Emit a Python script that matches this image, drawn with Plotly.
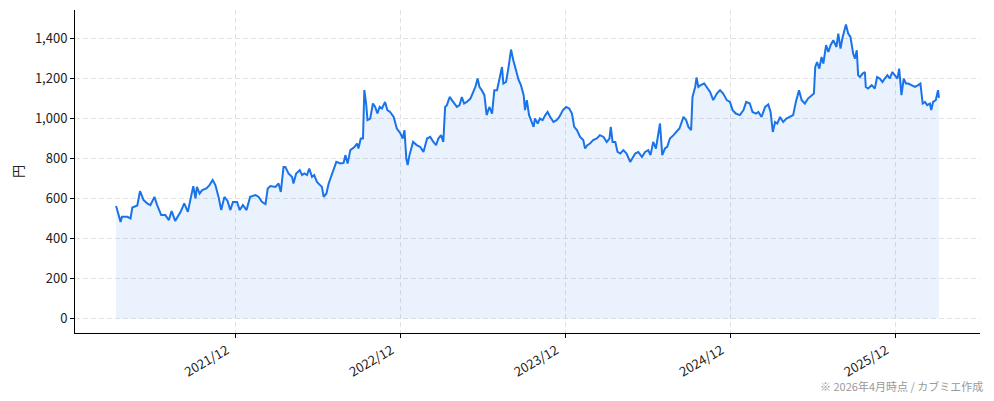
import plotly.graph_objects as go

# daily close (approx.)
dates = [
    "2021-03-11", "2021-03-21", "2021-03-24", "2021-04-05", "2021-04-12", "2021-04-16", "2021-04-27",
    "2021-05-03", "2021-05-11", "2021-05-19", "2021-05-26", "2021-06-04", "2021-06-10", "2021-06-19",
    "2021-06-28", "2021-07-06", "2021-07-12", "2021-07-20", "2021-08-01", "2021-08-09", "2021-08-17",
    "2021-08-21", "2021-08-29", "2021-09-03", "2021-09-06", "2021-09-12", "2021-09-18", "2021-09-27",
    "2021-10-04", "2021-10-11", "2021-10-17", "2021-10-24", "2021-10-30", "2021-11-06", "2021-11-13",
    "2021-11-19", "2021-11-25", "2021-12-04", "2021-12-10", "2021-12-17", "2021-12-25", "2022-01-02",
    "2022-01-14", "2022-01-21", "2022-01-28", "2022-02-05", "2022-02-10", "2022-02-16", "2022-02-27",
    "2022-03-06", "2022-03-11", "2022-03-17", "2022-03-21", "2022-03-28", "2022-04-05", "2022-04-08",
    "2022-04-14", "2022-04-22", "2022-04-27", "2022-05-02", "2022-05-08", "2022-05-13", "2022-05-19",
    "2022-05-24", "2022-05-30", "2022-06-06", "2022-06-10", "2022-06-14", "2022-06-20", "2022-06-25",
    "2022-06-30", "2022-07-06", "2022-07-12", "2022-07-21", "2022-07-28", "2022-08-01", "2022-08-06",
    "2022-08-12", "2022-08-21", "2022-08-27", "2022-08-30", "2022-09-04", "2022-09-09", "2022-09-12",
    "2022-09-16", "2022-09-19", "2022-09-25", "2022-10-01", "2022-10-06", "2022-10-11", "2022-10-16",
    "2022-10-21", "2022-10-28", "2022-11-02", "2022-11-08", "2022-11-16", "2022-11-23", "2022-12-01",
    "2022-12-06", "2022-12-10", "2022-12-14", "2022-12-17", "2022-12-21", "2022-12-29", "2023-01-06",
    "2023-01-14", "2023-01-21", "2023-01-29", "2023-02-05", "2023-02-12", "2023-02-18", "2023-02-23",
    "2023-03-01", "2023-03-06", "2023-03-10", "2023-03-14", "2023-03-20", "2023-03-25", "2023-03-31",
    "2023-04-05", "2023-04-11", "2023-04-16", "2023-04-21", "2023-04-27", "2023-05-05", "2023-05-10",
    "2023-05-16", "2023-05-21", "2023-05-25", "2023-05-30", "2023-06-05", "2023-06-10", "2023-06-16",
    "2023-06-22", "2023-06-27", "2023-07-03", "2023-07-08", "2023-07-14", "2023-07-17", "2023-07-23",
    "2023-07-28", "2023-08-03", "2023-08-08", "2023-08-14", "2023-08-20", "2023-08-25", "2023-08-31",
    "2023-09-03", "2023-09-07", "2023-09-12", "2023-09-18", "2023-09-22", "2023-09-25", "2023-10-01",
    "2023-10-06", "2023-10-12", "2023-10-18", "2023-10-23", "2023-10-29", "2023-11-05", "2023-11-12",
    "2023-11-18", "2023-11-26", "2023-12-03", "2023-12-10", "2023-12-16", "2023-12-21", "2023-12-27",
    "2024-01-03", "2024-01-10", "2024-01-14", "2024-01-19", "2024-01-25", "2024-02-01", "2024-02-09",
    "2024-02-16", "2024-02-24", "2024-03-02", "2024-03-08", "2024-03-11", "2024-03-15", "2024-03-21",
    "2024-03-26", "2024-04-01", "2024-04-08", "2024-04-15", "2024-04-23", "2024-04-29", "2024-05-04",
    "2024-05-11", "2024-05-19", "2024-05-26", "2024-06-02", "2024-06-07", "2024-06-13", "2024-06-19",
    "2024-06-24", "2024-06-28", "2024-07-03", "2024-07-09", "2024-07-14", "2024-07-20", "2024-07-28",
    "2024-08-03", "2024-08-10", "2024-08-14", "2024-08-19", "2024-08-25", "2024-08-30", "2024-09-05",
    "2024-09-08", "2024-09-14", "2024-09-17", "2024-09-21", "2024-09-26", "2024-10-04", "2024-10-09",
    "2024-10-17", "2024-10-24", "2024-11-01", "2024-11-08", "2024-11-15", "2024-11-23", "2024-11-30",
    "2024-12-06", "2024-12-13", "2024-12-22", "2024-12-30", "2025-01-05", "2025-01-13", "2025-01-19",
    "2025-01-27", "2025-02-01", "2025-02-08", "2025-02-16", "2025-02-23", "2025-02-28", "2025-03-05",
    "2025-03-10", "2025-03-15", "2025-03-21", "2025-03-28", "2025-04-04", "2025-04-12", "2025-04-19",
    "2025-04-25", "2025-05-02", "2025-05-08", "2025-05-15", "2025-05-22", "2025-05-30", "2025-06-04",
    "2025-06-07", "2025-06-11", "2025-06-16", "2025-06-21", "2025-06-25", "2025-07-01", "2025-07-06",
    "2025-07-11", "2025-07-17", "2025-07-24", "2025-07-28", "2025-08-02", "2025-08-06", "2025-08-14",
    "2025-08-19", "2025-08-24", "2025-08-30", "2025-09-03", "2025-09-07", "2025-09-10", "2025-09-14",
    "2025-09-20", "2025-09-25", "2025-09-27", "2025-10-02", "2025-10-10", "2025-10-17", "2025-10-22",
    "2025-10-28", "2025-11-03", "2025-11-08", "2025-11-14", "2025-11-19", "2025-11-25", "2025-11-30",
    "2025-12-06", "2025-12-10", "2025-12-15", "2025-12-20", "2025-12-25", "2025-12-30", "2026-01-06",
    "2026-01-14", "2026-01-21", "2026-01-26", "2026-01-31", "2026-02-05", "2026-02-10", "2026-02-16",
    "2026-02-19", "2026-02-23", "2026-03-01", "2026-03-06", "2026-03-08",
]
prices = [
    562, 483, 508, 508, 500, 555, 565,
    637, 592, 575, 567, 608, 567, 517,
    517, 492, 537, 488, 533, 575, 533,
    583, 662, 600, 658, 625, 642, 650,
    667, 692, 667, 608, 542, 608, 588,
    542, 583, 583, 542, 567, 542, 608,
    617, 608, 583, 572, 650, 662, 658,
    675, 633, 758, 758, 725, 708, 675,
    725, 742, 717, 725, 717, 750, 708,
    717, 683, 667, 658, 608, 625, 675,
    708, 742, 783, 775, 778, 817, 775,
    842, 858, 875, 850, 900, 900, 1142,
    1075, 992, 1000, 1075, 1058, 1025, 1058,
    1050, 1083, 1042, 1033, 1008, 950, 925,
    900, 942, 800, 767, 817, 883, 867,
    858, 833, 900, 908, 883, 867, 900,
    917, 883, 1058, 1067, 1108, 1092, 1075,
    1058, 1067, 1108, 1075, 1083, 1100, 1125,
    1158, 1200, 1158, 1142, 1117, 1017, 1058,
    1025, 1142, 1142, 1192, 1258, 1175, 1183,
    1250, 1345, 1292, 1242, 1192, 1167, 1117,
    1042, 1092, 1017, 975, 958, 1000, 975,
    1000, 992, 1017, 1033, 1008, 983, 992,
    1008, 1042, 1058, 1050, 1025, 958, 942,
    908, 892, 850, 867, 875, 892, 900,
    917, 908, 883, 900, 958, 883, 883,
    833, 825, 842, 825, 783, 808, 825,
    833, 808, 833, 842, 817, 883, 850,
    925, 975, 817, 850, 858, 900, 917,
    933, 950, 975, 1008, 992, 958, 942,
    1108, 1158, 1205, 1158, 1167, 1175, 1158,
    1133, 1092, 1125, 1142, 1125, 1092, 1083,
    1042, 1025, 1017, 1042, 1083, 1075, 1033,
    1025, 1033, 1008, 1058, 1070, 1033, 933,
    983, 975, 1008, 983, 1000, 1008, 1017,
    1083, 1142, 1092, 1075, 1100, 1117, 1125,
    1258, 1283, 1250, 1308, 1275, 1367, 1333,
    1367, 1392, 1358, 1425, 1350, 1400, 1470,
    1425, 1408, 1325, 1300, 1342, 1217, 1208,
    1225, 1233, 1158, 1150, 1167, 1150, 1208,
    1200, 1183, 1200, 1217, 1200, 1233, 1217,
    1200, 1250, 1117, 1200, 1175, 1175, 1167,
    1158, 1167, 1175, 1075, 1083, 1067, 1075,
    1042, 1083, 1092, 1142, 1103,
]
tick_dates = ["2021-12-01", "2022-12-01", "2023-12-01", "2024-12-01", "2025-12-01"]
tick_labels = ["2021/12", "2022/12", "2023/12", "2024/12", "2025/12"]
y_ticks = [0, 200, 400, 600, 800, 1000, 1200, 1400]

LINE = "#1a73e8"
FONT = "Noto Sans CJK JP"

fig = go.Figure()
fig.add_trace(go.Scatter(
    x=dates,
    y=prices,
    mode="lines",
    line=dict(color=LINE, width=2),
    fill="tozeroy",
    fillcolor="rgba(26,115,232,0.09)",
    hoverinfo="x+y",
))

axis_common = dict(
    showline=True,
    linecolor="black",
    linewidth=1,
    ticks="outside",
    ticklen=4,
    tickcolor="black",
    showgrid=True,
    gridcolor="#e2e2e2",
    griddash="5px,3px",
    gridwidth=1,
    zeroline=False,
    mirror=False,
    automargin=False,
    tickfont=dict(family=FONT, size=13, color="#222"),
)

fig.update_xaxes(
    range=["2020-12-10", "2026-06-07"],
    tickvals=tick_dates,
    ticktext=tick_labels,
    tickangle=-30,
    ticklabelshift=-9,
    **axis_common,
)
fig.update_yaxes(
    range=[-73, 1543],
    tickvals=y_ticks,
    tickformat=",d",
    title=dict(text="円", font=dict(family=FONT, size=13, color="#222"), standoff=9),
    **axis_common,
)

fig.add_annotation(
    text="※ 2026年4月時点 / カブミエ作成",
    xref="paper", yref="paper",
    x=1.005, y=-0.165,
    xanchor="right", yanchor="middle",
    showarrow=False,
    font=dict(family=FONT, size=11, color="#999"),
)

# page body adds an 8px margin, so the figure is sized to fit inside it
fig.update_layout(
    width=986,
    height=393,
    margin=dict(l=67, r=14, t=2, b=68),
    plot_bgcolor="white",
    paper_bgcolor="white",
    showlegend=False,
    font=dict(family=FONT),
)

fig.write_html("out.html")
